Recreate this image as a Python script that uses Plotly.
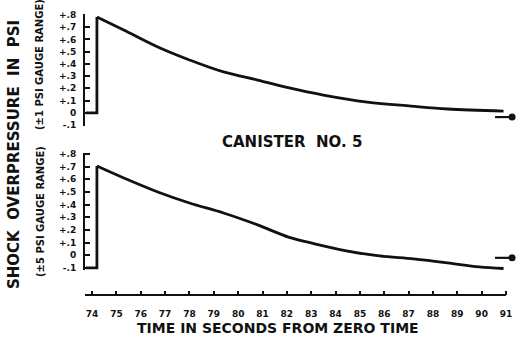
import plotly.graph_objects as go

# ---- data ----
x_ticks = list(range(74, 92))
x_tick_labels = [str(v) for v in x_ticks]

y_tick_vals = [0.8, 0.7, 0.6, 0.5, 0.4, 0.3, 0.2, 0.1, 0.0, -0.1]
y_tick_labels = ["+.8", "+.7", "+.6", "+.5", "+.4", "+.3", "+.2", "+.1", "0", "-.1"]

# upper record (±1 psi gauge): pre-shock baseline, jump, decay
top_step_t = [73.75, 74.2, 74.2]
top_step_v = [0.0, 0.0, 0.784]
top_t = [74.2, 75.3, 76.7, 78.0, 79.4, 80.8, 82.1, 83.5, 85.3, 87.1, 88.6, 90.9]
top_v = [0.784, 0.677, 0.538, 0.432, 0.334, 0.268, 0.203, 0.145, 0.088, 0.055, 0.031, 0.014]

# lower record (±5 psi gauge)
bot_step_t = [73.75, 74.2, 74.2]
bot_step_v = [-0.1, -0.1, 0.705]
bot_t = [74.2, 75.3, 76.7, 78.0, 79.4, 80.8, 82.1, 83.1, 84.5, 85.8, 87.2, 88.6, 89.9, 90.9]
bot_v = [0.705, 0.611, 0.500, 0.413, 0.334, 0.240, 0.142, 0.093, 0.034, -0.005, -0.029, -0.060, -0.092, -0.104]

# end-of-record reference marks
mark_t = [90.55, 91.25]
top_mark_v = [-0.035, -0.035]
bot_mark_v = [-0.02, -0.02]

W, H = 520, 351
L, R, T, B = 85, 5, 0, 0
PW = W - L - R
PH = H - T - B


def py(p):
    return 1 - (p - T) / PH


def px(p):
    return (p - L) / PW


ink = "#111111"
fnt = "DejaVu Sans"

fig = go.Figure()
for st, sv, ct, cv, mv, ya in [
    (top_step_t, top_step_v, top_t, top_v, top_mark_v, "y"),
    (bot_step_t, bot_step_v, bot_t, bot_v, bot_mark_v, "y2"),
]:
    fig.add_trace(go.Scatter(x=st, y=sv, mode="lines", xaxis="x", yaxis=ya,
                             line=dict(color=ink, width=2.8), hoverinfo="skip"))
    fig.add_trace(go.Scatter(x=ct, y=cv, mode="lines", xaxis="x", yaxis=ya,
                             line=dict(color=ink, width=2.8, shape="spline", smoothing=1.0),
                             hoverinfo="skip"))
    fig.add_trace(go.Scatter(x=mark_t, y=mv, mode="lines", xaxis="x", yaxis=ya,
                             line=dict(color=ink, width=2.2), hoverinfo="skip"))
    fig.add_trace(go.Scatter(x=mark_t[-1:], y=mv[-1:], mode="markers", xaxis="x", yaxis=ya,
                             marker=dict(size=7, color=ink), cliponaxis=False,
                             hoverinfo="skip"))

yax = dict(
    tickmode="array", tickvals=y_tick_vals, ticktext=y_tick_labels,
    ticks="inside", ticklen=5, tickwidth=1.5, tickcolor=ink,
    showline=True, linecolor=ink, linewidth=2,
    showgrid=False, zeroline=False, anchor="x", automargin=False,
    tickfont=dict(family=fnt, size=9, color=ink, weight="bold"),
    ticklabelstandoff=5, fixedrange=True,
)

fig.update_layout(
    width=W, height=H,
    margin=dict(l=L, r=R, t=T, b=B, autoexpand=False),
    paper_bgcolor="white", plot_bgcolor="white",
    showlegend=False,
    xaxis=dict(
        range=[73.71, 91.37], anchor="free", position=py(295),
        tickmode="array", tickvals=x_ticks, ticktext=x_tick_labels,
        ticks="inside", ticklen=4, tickwidth=1.5, tickcolor=ink,
        showline=False, showgrid=False, zeroline=False, automargin=False,
        tickfont=dict(family=fnt, size=9, color=ink, weight="bold"),
        ticklabelstandoff=12, fixedrange=True,
    ),
    yaxis=dict(domain=[py(126), py(14)], range=[-0.108, 0.808], **yax),
    yaxis2=dict(domain=[py(270), py(153)], range=[-0.116, 0.808], **yax),
)

# x axis base line (stops at the last tick, as in the reference)
fig.add_shape(type="line", xref="x", yref="paper", x0=73.71, x1=91.0,
              y0=py(295), y1=py(295), line=dict(color=ink, width=2))

ann_font = lambda s: dict(family=fnt, size=s, color=ink, weight="bold")
fig.add_annotation(text="SHOCK  OVERPRESSURE  IN  PSI", xref="paper", yref="paper",
                   x=px(14), y=py(155), textangle=-90, showarrow=False,
                   xanchor="center", yanchor="middle", font=ann_font(15))
fig.add_annotation(text="(±1 PSI GAUGE RANGE)", xref="paper", yref="paper",
                   x=px(40), y=py(65), textangle=-90, showarrow=False,
                   xanchor="center", yanchor="middle", font=ann_font(10))
fig.add_annotation(text="(±5 PSI GAUGE RANGE)", xref="paper", yref="paper",
                   x=px(40), y=py(212), textangle=-90, showarrow=False,
                   xanchor="center", yanchor="middle", font=ann_font(10))
fig.add_annotation(text="CANISTER  NO. 5", xref="paper", yref="paper",
                   x=px(292), y=py(142), showarrow=False,
                   xanchor="center", yanchor="middle", font=ann_font(15))
fig.add_annotation(text="TIME IN SECONDS FROM ZERO TIME", xref="paper", yref="paper",
                   x=px(278), y=py(328), showarrow=False,
                   xanchor="center", yanchor="middle", font=ann_font(14))

fig.write_html("out.html", config={"displayModeBar": False},
               post_script="document.body.style.margin='0px';document.body.style.overflow='hidden';")
